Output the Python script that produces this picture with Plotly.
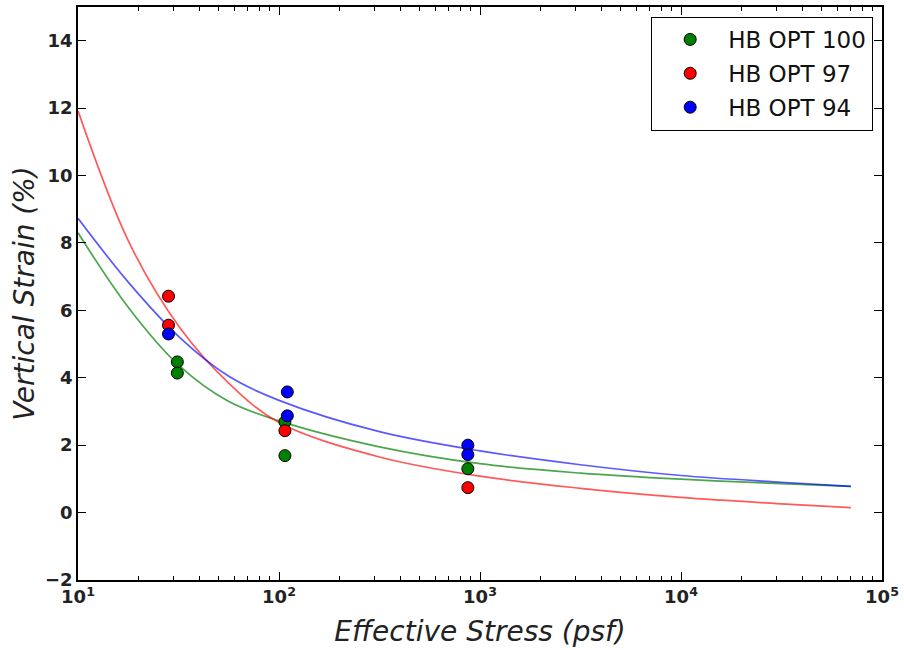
import plotly.graph_objects as go

# ---- measured data points ----
green_stress = [31.2, 31.2, 107, 107, 870]
green_strain = [4.47, 4.14, 2.69, 1.69, 1.30]
red_stress = [28.2, 28.2, 107, 870]
red_strain = [6.42, 5.56, 2.43, 0.74]
blue_stress = [28.2, 110, 110, 870, 870]
blue_strain = [5.30, 3.58, 2.87, 2.00, 1.72]

# ---- fitted curves ----
curve_stress = [10, 18, 32, 56, 100, 316, 1000, 3160, 10000, 31600, 70000]
green_fit = [8.30, 6.05, 4.35, 3.30, 2.72, 1.95, 1.45, 1.17, 0.99, 0.86, 0.78]
red_fit = [11.92, 8.00, 5.50, 3.85, 2.67, 1.65, 1.08, 0.72, 0.45, 0.26, 0.15]
blue_fit = [8.73, 6.80, 5.20, 4.05, 3.33, 2.40, 1.83, 1.42, 1.10, 0.90, 0.78]

series_names = ["HB OPT 100", "HB OPT 97", "HB OPT 94"]

x_major = [10, 100, 1000, 10000, 100000]
x_major_text = ["10<sup>1</sup>", "10<sup>2</sup>", "10<sup>3</sup>", "10<sup>4</sup>", "10<sup>5</sup>"]
x_minor = [m * d for d in [10, 100, 1000, 10000] for m in range(2, 10)]
y_ticks = [-2, 0, 2, 4, 6, 8, 10, 12, 14]

FONT = "DejaVu Sans"

fig = go.Figure()

fits = [(green_fit, "rgba(0,128,0,0.7)"), (red_fit, "rgba(255,0,0,0.65)"), (blue_fit, "rgba(0,0,255,0.65)")]
for vals, col in fits:
    fig.add_trace(go.Scatter(x=curve_stress, y=vals, mode="lines",
                             line=dict(color=col, width=1.7, shape="spline"),
                             showlegend=False, hoverinfo="skip"))

pts = [(green_stress, green_strain, "#008000"),
       (red_stress, red_strain, "#ff0000"),
       (blue_stress, blue_strain, "#0000ff")]
for i, ((xs, ys, col), name) in enumerate(zip(pts, series_names)):
    fig.add_trace(go.Scatter(x=xs, y=ys, mode="markers", name=name, legendgroup="g%d" % i,
                             marker=dict(color=col, size=12, line=dict(color="black", width=1))))

fig.update_layout(
    width=904, height=650,
    margin=dict(l=78, r=20, t=5, b=70),
    paper_bgcolor="white", plot_bgcolor="white",
    font=dict(family=FONT, color="#111"),
    legend=dict(x=0.9888, xanchor="right", y=0.983, yanchor="top",
                bordercolor="black", borderwidth=1.2, bgcolor="white",
                font=dict(size=23, family=FONT, color="#111"),
                itemwidth=66, tracegroupgap=1),
    xaxis=dict(type="log", range=[1, 5], tickvals=x_major, ticktext=x_major_text,
               ticks="inside", ticklen=8, tickwidth=1, tickcolor="black",
               mirror="allticks", showline=True, linecolor="black", linewidth=1.5,
               showgrid=False, zeroline=False,
               tickfont=dict(size=18, family=FONT, color="#222", weight="bold"),
               minor=dict(tickvals=x_minor, ticks="inside", ticklen=4, tickcolor="black", showgrid=False),
               title=dict(text="<i>Effective Stress (psf)</i>", font=dict(size=28, family=FONT, color="#222"),
                          standoff=15)),
    yaxis=dict(range=[-2, 15], tickvals=y_ticks,
               ticks="inside", ticklen=8, tickwidth=1, tickcolor="black",
               mirror="allticks", showline=True, linecolor="black", linewidth=1.5,
               showgrid=False, zeroline=False,
               tickfont=dict(size=18, family=FONT, color="#222", weight="bold"),
               title=dict(text="<i>Vertical Strain (%)</i>", font=dict(size=28, family=FONT, color="#222"),
                          standoff=2)),
)

fig.write_html("out.html")
